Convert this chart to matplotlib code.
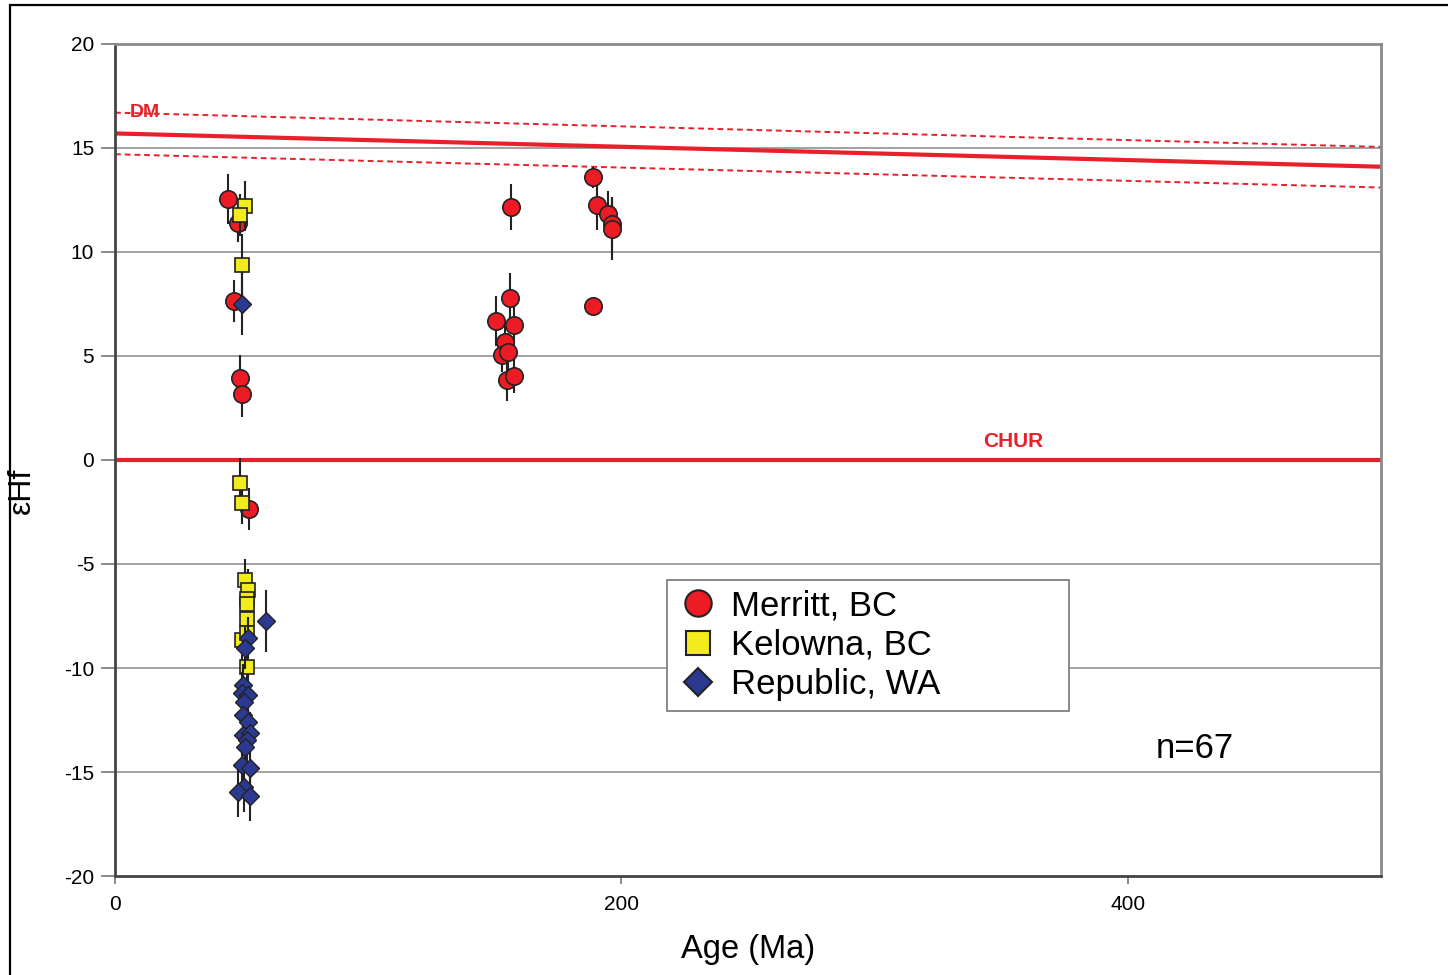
import matplotlib
matplotlib.use("Agg")
import matplotlib.pyplot as plt
from matplotlib.lines import Line2D
from matplotlib.patches import Rectangle

plt.rcParams['font.family'] = ['Liberation Sans', 'DejaVu Sans']
plt.rcParams['axes.unicode_minus'] = False

# Merritt, BC
merritt_age = [44.6, 48.6, 47.0, 49.4, 50.1, 52.9,
               156.4, 156.0, 150.4, 157.6, 154.0, 152.8, 155.2, 154.8, 157.6,
               188.7, 190.3, 194.7, 196.2, 196.2, 188.7]
merritt_ehf = [12.55, 11.4, 7.64, 3.94, 3.17, -2.36,
               12.16, 7.79, 6.68, 6.49, 5.67, 5.05, 5.19, 3.85, 4.04,
               13.6, 12.26, 11.83, 11.35, 11.1, 7.4]
merritt_err = [1.2, 0.9, 1.0, 1.1, 1.1, 1.0,
               1.1, 1.2, 1.2, 1.0, 1.0, 0.8, 0.9, 1.0, 0.8,
               0.5, 1.2, 1.1, 1.3, 1.5, 0.3]

# Kelowna, BC
kelowna_age = [51.3, 49.4, 50.1, 49.4, 50.1, 51.3, 52.5, 52.1, 52.1, 52.1, 50.1, 52.1, 52.1]
kelowna_ehf = [12.21, 11.78, 9.38, -1.1, -2.07, -5.77, -6.25, -6.68, -6.92, -7.64, -8.65, -8.32, -9.95]
kelowna_err = [1.2, 1.0, 1.5, 1.2, 1.0, 1.0, 1.0, 1.0, 1.0, 1.0, 1.0, 1.0, 1.0]

# Republic, WA
republic_age = [50.1, 59.6, 52.5, 51.3, 50.5, 50.1, 52.5, 50.9, 50.5, 52.5,
                50.5, 53.3, 52.1, 51.3, 50.1, 53.3, 50.9, 48.6, 53.3]
republic_ehf = [7.5, -7.74, -8.56, -9.04, -10.82, -11.2, -11.3, -11.63, -12.26, -12.6,
                -13.22, -13.13, -13.46, -13.8, -14.66, -14.8, -15.72, -15.96, -16.15]
republic_err = [1.5, 1.5, 1.0, 1.0, 1.0, 1.0, 1.0, 1.0, 1.0, 1.0,
                1.0, 1.0, 1.0, 1.0, 1.2, 1.2, 1.2, 1.2, 1.2]

# depleted mantle evolution and its envelope
dm_age = [0, 500]
dm_ehf = [15.7, 14.1]
dm_upper = [16.7, 15.05]
dm_lower = [14.7, 13.1]

red = "#e8202a"
styles = [("Merritt, BC", "o", "#ed1c24"),
          ("Kelowna, BC", "s", "#f2ec1c"),
          ("Republic, WA", "D", "#2b3990")]

fig = plt.figure(figsize=(14.48, 9.75), dpi=100)
ax = fig.add_axes([115 / 1448, 1 - 876 / 975, 1266 / 1448, 832 / 975])

ax.set_xlim(0, 500)
ax.set_ylim(-20, 20)
ax.set_xticks([0, 200, 400])
ax.set_yticks(range(-20, 21, 5))
for y in range(-15, 20, 5):
    ax.axhline(y, color="#9a9a9a", lw=1.3, zorder=0)

ax.plot(dm_age, dm_ehf, color=red, lw=3, zorder=2)
ax.plot(dm_age, dm_upper, color=red, lw=1.4, ls=(0, (3, 2)), zorder=2)
ax.plot(dm_age, dm_lower, color=red, lw=1.4, ls=(0, (3, 2)), zorder=2)
ax.axhline(0, color=red, lw=3, zorder=2)
ax.text(11.8, 16.7, "DM", color=red, fontsize=14, fontweight="bold", ha="center", va="center", zorder=3)
ax.text(354.6, 0.87, "CHUR", color=red, fontsize=15, fontweight="bold", ha="center", va="center", zorder=3)

ax.errorbar(merritt_age, merritt_ehf, yerr=merritt_err, fmt="o", ms=12.5, mfc="#ed1c24", mec="#222222",
            mew=1.2, ecolor="#222222", elinewidth=1.5, capsize=0, zorder=4)
ax.errorbar(kelowna_age, kelowna_ehf, yerr=kelowna_err, fmt="s", ms=9.5, mfc="#f2ec1c", mec="#222222",
            mew=1.2, ecolor="#222222", elinewidth=1.5, capsize=0, zorder=5)
ax.errorbar(republic_age, republic_ehf, yerr=republic_err, fmt="D", ms=9, mfc="#2b3990", mec="#222222",
            mew=1.0, ecolor="#222222", elinewidth=1.5, capsize=0, zorder=6)

ax.text(426.5, -13.85, "n=67", fontsize=25, ha="center", va="center")

handles = [Line2D([], [], ls="none", marker=m, ms=s, mfc=c, mec="#222222", mew=1.5)
           for (lab, m, c), s in zip(styles, [19, 17, 14])]
leg = ax.legend(handles, [s[0] for s in styles], loc="upper left",
                bbox_to_anchor=(0.436, 0.356 - 0.155, 0.3175, 0.155), mode="expand",
                fontsize=25, frameon=True, fancybox=False, edgecolor="#777777", framealpha=1,
                borderpad=0.28, labelspacing=0.18, handletextpad=0.35, borderaxespad=0,
                handlelength=1.2)
leg.get_frame().set_linewidth(1.2)

for side in ["top", "right"]:
    ax.spines[side].set_color("#8a8a8a")
    ax.spines[side].set_linewidth(2)
for side in ["left", "bottom"]:
    ax.spines[side].set_color("#444444")
    ax.spines[side].set_linewidth(2)

ax.tick_params(axis="y", length=10, width=1.2, color="#777777", labelsize=15, pad=5)
ax.tick_params(axis="x", length=6, width=1.2, color="#777777", labelsize=15, pad=8)
ax.set_xlabel("Age (Ma)", fontsize=23.5, labelpad=14)
ax.set_ylabel("εHf", fontsize=23)
ax.yaxis.set_label_coords(-0.0616, 0.463)

fig.patches.append(Rectangle((10 / 1448, -0.05), 1.2, 1.05 - 5 / 975, transform=fig.transFigure,
                             fill=False, edgecolor="black", lw=1.6))

fig.savefig("out.png", dpi=100)
